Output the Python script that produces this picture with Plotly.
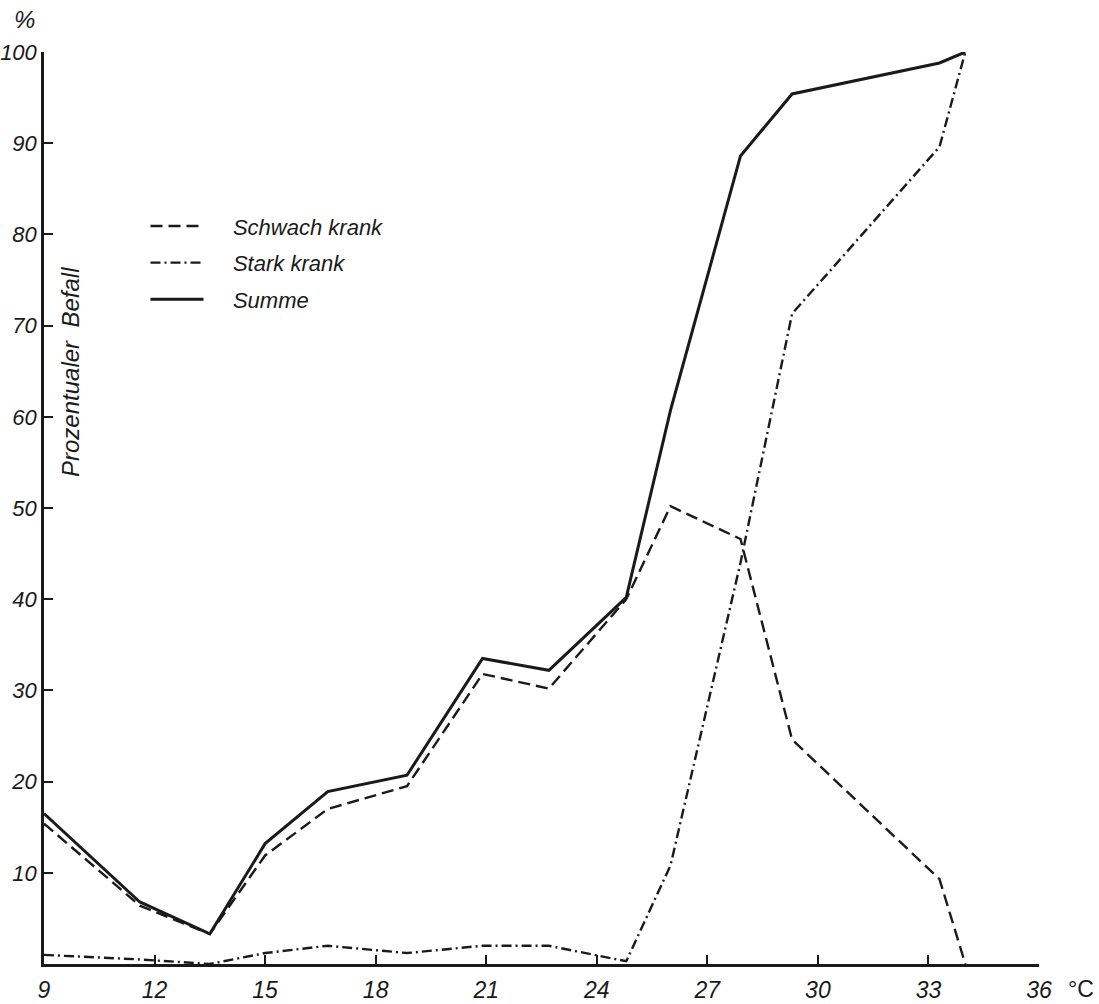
import plotly.graph_objects as go

# Temperatur (°C)
temperatur = [9, 11.6, 13.5, 15, 16.7, 18.85, 20.9, 22.7, 24.8, 26.0, 27.9, 29.3, 33.3, 34.0]
# Prozentualer Befall
schwach_krank = [15.4, 6.4, 3.3, 11.9, 17.0, 19.5, 31.8, 30.2, 40.0, 50.2, 46.6, 24.6, 9.3, 0.0]
stark_krank = [1.0, 0.5, 0.0, 1.2, 2.0, 1.2, 2.0, 2.0, 0.3, 10.8, 44.0, 71.3, 89.6, 100.0]
summe = [16.5, 6.8, 3.3, 13.2, 18.9, 20.7, 33.5, 32.2, 40.2, 60.7, 88.6, 95.4, 98.8, 100.0]

x_ticks = [9, 12, 15, 18, 21, 24, 27, 30, 33, 36]
y_ticks = [10, 20, 30, 40, 50, 60, 70, 80, 90, 100]

FONT = "Liberation Sans"
INK = "#1a1a1a"
SP = "\u00a0" * 4

fig = go.Figure()
fig.add_trace(go.Scatter(x=temperatur, y=schwach_krank, mode="lines", name=SP + "Schwach krank",
                         legendgroup="a",
                         line=dict(color=INK, width=2.4, dash="12px,6px")))
fig.add_trace(go.Scatter(x=temperatur, y=stark_krank, mode="lines", name=SP + "Stark krank",
                         legendgroup="b",
                         line=dict(color=INK, width=2.4, dash="10px,4px,2px,4px")))
fig.add_trace(go.Scatter(x=temperatur, y=summe, mode="lines", name=SP + "Summe",
                         legendgroup="c",
                         line=dict(color=INK, width=3)))

fig.update_layout(
    width=1099, height=1004,
    margin=dict(l=44, r=60, t=52, b=40),
    paper_bgcolor="white", plot_bgcolor="white",
    font=dict(family=FONT, size=23, color=INK),
    showlegend=True,
    legend=dict(x=0.102, y=0.832, xanchor="left", yanchor="top",
                bgcolor="rgba(0,0,0,0)", font=dict(family=FONT, size=22, style="italic"),
                tracegroupgap=5, itemwidth=53),
)
fig.update_xaxes(range=[9, 36], tickvals=x_ticks, ticktext=[str(v) for v in x_ticks],
                 automargin=False,
                 showgrid=False, zeroline=False, showline=True, linecolor=INK, linewidth=2.5,
                 ticks="inside", ticklen=9, tickwidth=2, tickcolor=INK,
                 tickfont=dict(family=FONT, size=23, style="italic"), ticklabelstandoff=4)
fig.update_yaxes(range=[0, 100], tickvals=y_ticks, ticktext=[str(v) for v in y_ticks],
                 automargin=False,
                 showgrid=False, zeroline=False, showline=True, linecolor=INK, linewidth=2.5,
                 ticks="inside", ticklen=9, tickwidth=2, tickcolor=INK,
                 tickfont=dict(family=FONT, size=22, style="italic"), ticklabelstandoff=0)

fig.add_annotation(text="%", xref="paper", yref="paper", x=0, y=1.0, xshift=-20, yshift=33,
                   xanchor="center", yanchor="middle",
                   showarrow=False, font=dict(family=FONT, size=24, style="italic"))
fig.add_annotation(text="°C", xref="paper", yref="paper", x=1.0, y=0, xshift=42, yshift=-25,
                   xanchor="center", yanchor="middle",
                   showarrow=False, font=dict(family=FONT, size=23))
fig.add_annotation(text="Prozentualer  Befall", xref="paper", yref="paper", x=0.026, y=0.649,
                   xanchor="center", yanchor="middle",
                   textangle=-90, showarrow=False, font=dict(family=FONT, size=24, style="italic"))

fig.write_html("out.html", post_script="document.body.style.margin='0';",
               config={"displayModeBar": False})
